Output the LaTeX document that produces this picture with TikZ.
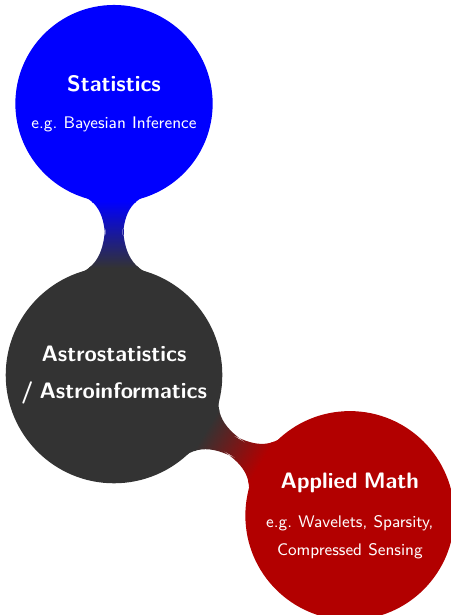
\documentclass[tikz,border=0pt]{standalone}
\usetikzlibrary{mindmap}

\begin{document}
\begin{tikzpicture}[
  mindmap, text=white, font=\sffamily,
  idea/.style={concept, align=center, inner sep=1pt},
]
  \useasboundingbox (-2.151,-4.528) rectangle (6.34,7.075);

  \node[idea, concept color=black!80, minimum size=4cm, text width=3.8cm] (astro) at (0,0)
    {{\large\bfseries Astrostatistics}\\[8pt]{\large\bfseries / Astroinformatics}};
  \node[idea, concept color=blue, minimum size=3.68cm, text width=3.2cm] (stats) at (90:5.12)
    {{\large\bfseries Statistics}\\[8pt]{\small e.g.\ Bayesian Inference}};
  \node[idea, concept color=red!70!black, minimum size=3.9cm, text width=3.3cm] (math) at (-30.8:5.18)
    {{\large\bfseries Applied Math}\\[9pt]{\small e.g.\ Wavelets, Sparsity,}\\[3pt]{\small Compressed Sensing}};

  \path (astro) to[circle connection bar switch color=from (black!80) to (blue)] (stats);
  \path (astro) to[circle connection bar switch color=from (black!80) to (red!70!black)] (math);
\end{tikzpicture}
\end{document}
